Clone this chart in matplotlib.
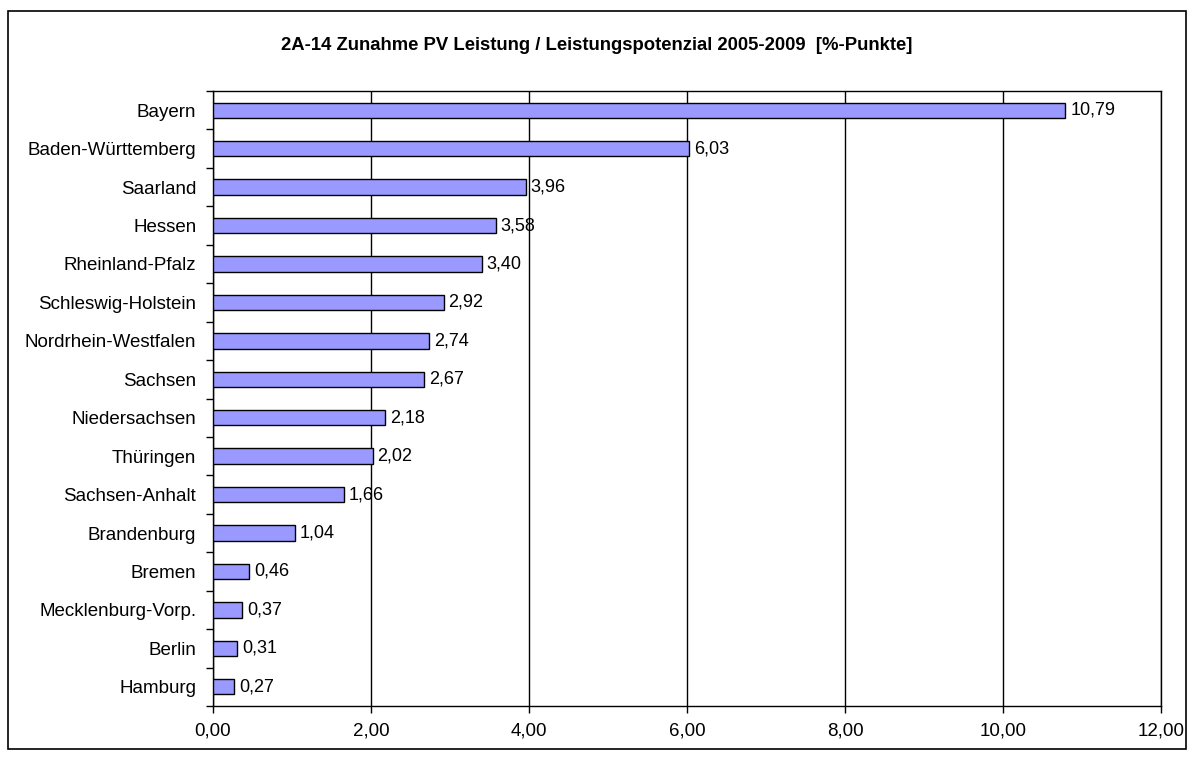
import numpy as np
import matplotlib.pyplot as plt
from matplotlib.patches import Rectangle

# data -------------------------------------------------------------------------
laender = ["Bayern", "Baden-Württemberg", "Saarland", "Hessen", "Rheinland-Pfalz",
           "Schleswig-Holstein", "Nordrhein-Westfalen", "Sachsen", "Niedersachsen",
           "Thüringen", "Sachsen-Anhalt", "Brandenburg", "Bremen",
           "Mecklenburg-Vorp.", "Berlin", "Hamburg"]
werte = [10.79, 6.03, 3.96, 3.58, 3.40, 2.92, 2.74, 2.67, 2.18,
         2.02, 1.66, 1.04, 0.46, 0.37, 0.31, 0.27]
x_ticks = [0, 2, 4, 6, 8, 10, 12]
titel = "2A-14 Zunahme PV Leistung / Leistungspotenzial 2005-2009  [%-Punkte]"

plt.rcParams['font.family'] = ['Liberation Sans', 'DejaVu Sans']
plt.rcParams['font.size'] = 13.5

def de(v):
    return ("%.2f" % v).replace(".", ",")

fig = plt.figure(figsize=(11.94, 7.6), dpi=100)
ax = fig.add_axes([213/1194, 1-706/760, (1161-213)/1194, (706-91)/760])

# outer frame
fig.patches.append(Rectangle((8/1194, 1-749/760), 1178/1194, 738/760,
                             transform=fig.transFigure, fill=False,
                             edgecolor='black', linewidth=1.2))

n = len(laender)
y = np.arange(n)[::-1]
ax.barh(y, werte, height=0.4, color='#9999ff', edgecolor='black', linewidth=1.0, zorder=3)
for yi, v in zip(y, werte):
    ax.text(v + 0.06, yi, de(v), va='center', ha='left', fontsize=13, zorder=4)

ax.set_xlim(0, 12)
ax.set_ylim(-0.5, n - 0.5)
ax.set_xticks(x_ticks)
ax.set_xticklabels([de(t) for t in x_ticks])
ax.set_yticks(y)
ax.set_yticklabels(laender)
ax.set_yticks(np.arange(-0.5, n, 1.0), minor=True)
ax.tick_params(axis='y', which='major', length=0, pad=12)
ax.tick_params(axis='y', which='minor', length=5, direction='out', width=1)
ax.tick_params(axis='x', length=5, direction='out', width=1, pad=7)
ax.grid(axis='x', color='black', linewidth=1.0, zorder=0)
for s in ax.spines.values():
    s.set_linewidth(1.0)

fig.text(0.5, 1-45/760, titel, ha='center', va='center', fontsize=13.3, fontweight='bold')

fig.savefig("out.png", dpi=100)
